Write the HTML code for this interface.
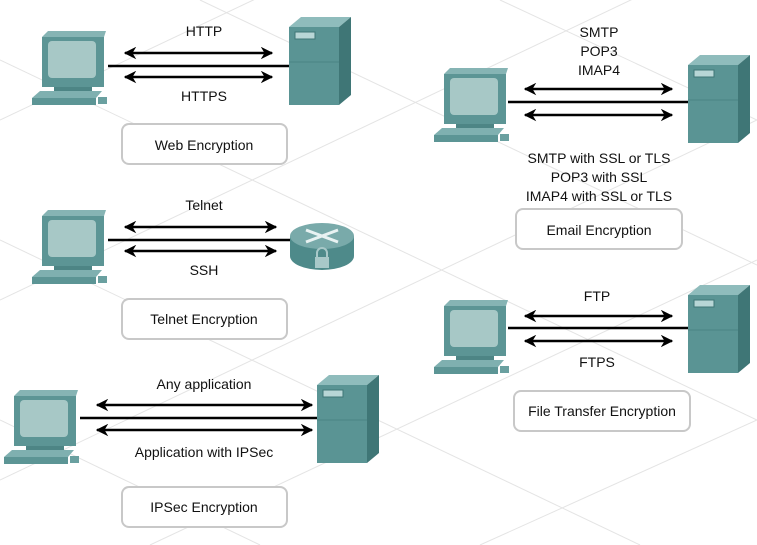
<!DOCTYPE html>
<html><head><meta charset="utf-8"><style>
html,body{margin:0;padding:0;background:#fff}
svg{display:block}
text{font-family:"Liberation Sans",Arial,sans-serif;font-size:14px;fill:#111;text-anchor:middle}
</style></head><body>
<svg width="757" height="545" viewBox="0 0 757 545" xmlns="http://www.w3.org/2000/svg">
<defs>
<marker id="ah" viewBox="0 0 10 10" refX="9" refY="5" markerWidth="5" markerHeight="5" orient="auto-start-reverse"><path d="M0,0 L10,5 L0,10 L3,5 z" fill="#000"/></marker>
<g id="pc">
<polygon points="10,6 16,0 74,0 72,6" fill="#86b4b4"/>
<rect x="10" y="6" width="62" height="50" fill="#5c9595"/>
<rect x="16" y="10" width="48" height="37" rx="4" fill="#a7c8c6"/>
<rect x="22" y="56" width="38" height="6" fill="#4d8585"/>
<polygon points="0,67 8,60 70,60 64,67" fill="#7fb0b0"/>
<rect x="0" y="67" width="64" height="7" fill="#5c9595"/>
<rect x="66" y="66" width="9" height="7" fill="#6aa0a0"/>
</g>
<g id="srv">
<polygon points="0,10 12,0 62,0 50,10" fill="#8fbcbc"/>
<rect x="0" y="10" width="50" height="78" fill="#5a9494"/>
<polygon points="50,10 62,0 62,78 50,88" fill="#3f7676"/>
<rect x="6" y="15" width="20" height="7" fill="#b8d6d6" stroke="#3f7676"/>
<line x1="0" y1="45" x2="50" y2="45" stroke="#4b8484"/>
</g>
</defs>
<g stroke="#e4e4e4" stroke-width="1">
<line x1="0" y1="120" x2="380" y2="-60"/><line x1="0" y1="300" x2="757" y2="-60"/><line x1="0" y1="480" x2="757" y2="120"/><line x1="150" y1="545" x2="757" y2="260"/><line x1="480" y1="545" x2="757" y2="420"/>
<line x1="0" y1="60" x2="757" y2="420"/><line x1="0" y1="240" x2="640" y2="545"/><line x1="0" y1="420" x2="260" y2="545"/><line x1="200" y1="0" x2="757" y2="265"/><line x1="500" y1="0" x2="757" y2="120"/>
</g>
<g stroke="#000" stroke-width="2.5" fill="none">
<line x1="108" y1="66" x2="290" y2="66"/>
<line x1="125" y1="53" x2="272" y2="53" marker-start="url(#ah)" marker-end="url(#ah)"/>
<line x1="125" y1="77" x2="272" y2="77" marker-start="url(#ah)" marker-end="url(#ah)"/>
<line x1="508" y1="102" x2="688" y2="102"/>
<line x1="525" y1="89" x2="672" y2="89" marker-start="url(#ah)" marker-end="url(#ah)"/>
<line x1="525" y1="115" x2="672" y2="115" marker-start="url(#ah)" marker-end="url(#ah)"/>
<line x1="108" y1="240" x2="292" y2="240"/>
<line x1="125" y1="227" x2="276" y2="227" marker-start="url(#ah)" marker-end="url(#ah)"/>
<line x1="125" y1="251" x2="276" y2="251" marker-start="url(#ah)" marker-end="url(#ah)"/>
<line x1="508" y1="328" x2="688" y2="328"/>
<line x1="525" y1="316" x2="672" y2="316" marker-start="url(#ah)" marker-end="url(#ah)"/>
<line x1="525" y1="341" x2="672" y2="341" marker-start="url(#ah)" marker-end="url(#ah)"/>
<line x1="80" y1="418" x2="318" y2="418"/>
<line x1="97" y1="405" x2="312" y2="405" marker-start="url(#ah)" marker-end="url(#ah)"/>
<line x1="97" y1="430" x2="312" y2="430" marker-start="url(#ah)" marker-end="url(#ah)"/>
</g>
<use href="#pc" x="32" y="31"/>
<use href="#srv" x="289" y="17"/>
<use href="#pc" x="434" y="68"/>
<use href="#srv" x="688" y="55"/>
<use href="#pc" x="32" y="210"/>
<use href="#pc" x="434" y="300"/>
<use href="#srv" x="688" y="285"/>
<use href="#pc" x="4" y="390"/>
<use href="#srv" x="317" y="375"/>
<g>
<path d="M290,236 v20 a32,14 0 0 0 64,0 v-20 z" fill="#4e8a8a"/>
<ellipse cx="322" cy="236" rx="32" ry="13" fill="#79aaaa"/>
<g stroke="#e8f2f2" stroke-width="3"><line x1="306" y1="230" x2="338" y2="242"/><line x1="306" y1="242" x2="338" y2="230"/></g>
<rect x="315" y="257" width="14" height="11" fill="#a8c8c8"/>
<path d="M317,257 v-4 a5,5 0 0 1 10,0 v4" stroke="#a8c8c8" stroke-width="2" fill="none"/>
</g>
<g fill="#fff" stroke="#c8c8c8" stroke-width="2">
<rect x="122" y="124" width="165" height="40" rx="7"/>
<rect x="516" y="209" width="166" height="40" rx="7"/>
<rect x="122" y="299" width="165" height="40" rx="7"/>
<rect x="514" y="391" width="176" height="40" rx="7"/>
<rect x="122" y="487" width="165" height="40" rx="7"/>
</g>
<text x="204" y="36">HTTP</text>
<text x="204" y="101">HTTPS</text>
<text x="204" y="150">Web Encryption</text>
<text x="599" y="37">SMTP</text>
<text x="599" y="56">POP3</text>
<text x="599" y="75">IMAP4</text>
<text x="599" y="163">SMTP with SSL or TLS</text>
<text x="599" y="182">POP3 with SSL</text>
<text x="599" y="201">IMAP4 with SSL or TLS</text>
<text x="599" y="235">Email Encryption</text>
<text x="204" y="210">Telnet</text>
<text x="204" y="275">SSH</text>
<text x="204" y="324">Telnet Encryption</text>
<text x="597" y="301">FTP</text>
<text x="597" y="367">FTPS</text>
<text x="602" y="416">File Transfer Encryption</text>
<text x="204" y="389">Any application</text>
<text x="204" y="457">Application with IPSec</text>
<text x="204" y="512">IPSec Encryption</text>
</svg>
</body></html>
